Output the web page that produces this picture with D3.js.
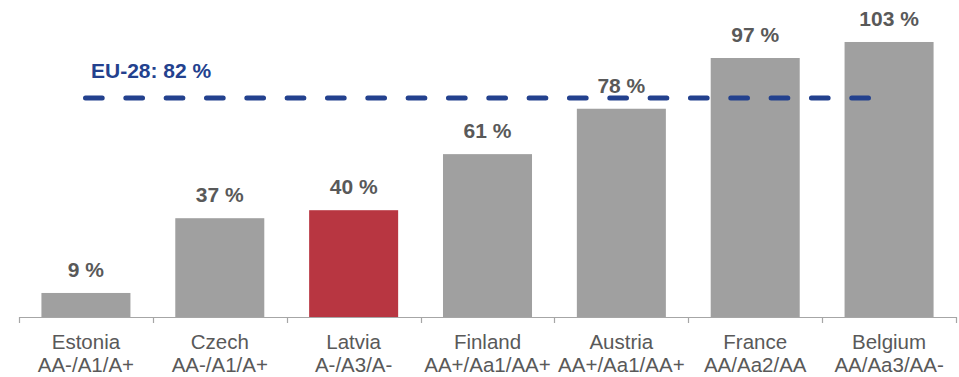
<!DOCTYPE html>
<html>
<head>
<meta charset="utf-8">
<script src="https://cdn.jsdelivr.net/npm/d3@7"></script>
<style>
  html, body { margin: 0; padding: 0; background: #ffffff; }
  svg { display: block; }
  text { font-family: "Liberation Sans", Arial, sans-serif; }
</style>
</head>
<body>
<svg id="chart" width="959" height="377"></svg>
<script>
const countries = ["Estonia", "Czech", "Latvia", "Finland", "Austria", "France", "Belgium"];
const ratings = ["AA-/A1/A+", "AA-/A1/A+", "A-/A3/A-", "AA+/Aa1/AA+", "AA+/Aa1/AA+", "AA/Aa2/AA", "AA/Aa3/AA-"];
const values = [9, 37, 40, 61, 78, 97, 103];
const highlight = ["Latvia"];
const euLabel = "EU-28: 82 %";
const euValue = 82;

const svg = d3.select("#chart");
const x = d3.scaleBand().domain(countries).range([19, 956]).paddingInner(0.335).paddingOuter(0.1675);
const y = d3.scaleLinear().domain([0, 100]).range([317, 50]);

// bars
svg.append("g").selectAll("rect").data(values).join("rect")
  .attr("x", (d, i) => x(countries[i]))
  .attr("y", d => y(d))
  .attr("width", x.bandwidth())
  .attr("height", d => y(0) - y(d))
  .attr("fill", (d, i) => highlight.includes(countries[i]) ? "#b83641" : "#a0a0a0");

// value labels
svg.append("g").selectAll("text").data(values).join("text")
  .attr("x", (d, i) => x(countries[i]) + x.bandwidth() / 2)
  .attr("y", d => y(d) - 16)
  .attr("text-anchor", "middle")
  .attr("font-size", 21)
  .attr("font-weight", "bold")
  .attr("fill", "#595959")
  .text(d => d + " %");

// axis
const axisG = svg.append("g");
axisG.append("line")
  .attr("x1", 19).attr("x2", 956)
  .attr("y1", y(0) + 0.5).attr("y2", y(0) + 0.5)
  .attr("stroke", "#a6a6a6").attr("stroke-width", 1.2);
const tickXs = countries.map(c => x(c) - x.step() * x.paddingInner() / 2).concat([956]);
tickXs[0] = 19;
axisG.selectAll("line.tick").data(tickXs).join("line")
  .attr("class", "tick")
  .attr("x1", d => Math.round(d) + 0.5).attr("x2", d => Math.round(d) + 0.5)
  .attr("y1", y(0)).attr("y2", y(0) + 6)
  .attr("stroke", "#a6a6a6").attr("stroke-width", 1.2);

// category labels
const lab = svg.append("g").selectAll("text").data(countries).join("text")
  .attr("x", c => x(c) + x.bandwidth() / 2)
  .attr("text-anchor", "middle")
  .attr("font-size", 20.5)
  .attr("fill", "#595959");
lab.append("tspan").attr("x", c => x(c) + x.bandwidth() / 2).attr("y", 349).text(c => c);
lab.append("tspan").attr("x", c => x(c) + x.bandwidth() / 2).attr("y", 372).text((c, i) => ratings[i]);

// EU average dashed line
svg.append("line")
  .attr("x1", 85.5).attr("x2", 869.5)
  .attr("y1", y(euValue)).attr("y2", y(euValue))
  .attr("stroke", "#23418e")
  .attr("stroke-width", 5)
  .attr("stroke-linecap", "round")
  .attr("stroke-dasharray", "16.7 23.63");

svg.append("text")
  .attr("x", 91).attr("y", 78)
  .attr("font-size", 21)
  .attr("font-weight", "bold")
  .attr("fill", "#23418e")
  .text(euLabel);
</script>
</body>
</html>
